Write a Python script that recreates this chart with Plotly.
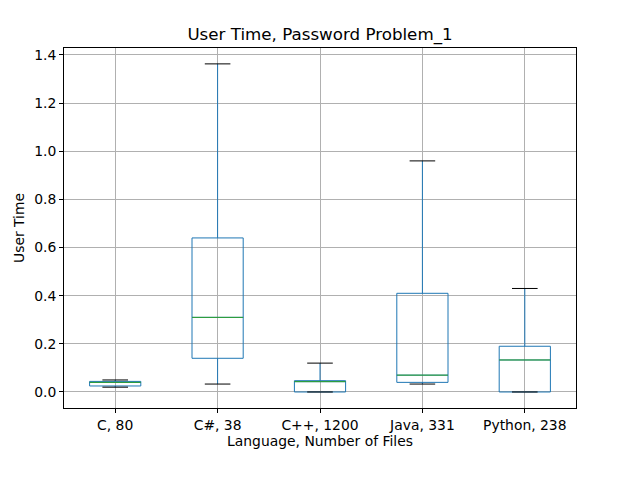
import plotly.graph_objects as go

languages = ["C, 80", "C#, 38", "C++, 1200", "Java, 331", "Python, 238"]
lower_fence = [0.02, 0.033, 0.0, 0.033, 0.0]
q1 = [0.025, 0.14, 0.0, 0.04, 0.0]
median = [0.04, 0.31, 0.043, 0.07, 0.133]
q3 = [0.044, 0.64, 0.047, 0.41, 0.19]
upper_fence = [0.05, 1.363, 0.12, 0.96, 0.43]

positions = list(range(1, len(languages) + 1))
box_w = 0.5
cap_w = 0.25

fig = go.Figure()
fig.add_trace(go.Box(
    x=positions, q1=q1, median=median, q3=q3,
    lowerfence=lower_fence, upperfence=upper_fence,
    width=box_w, whiskerwidth=0,
    fillcolor="rgba(0,0,0,0)",
    line=dict(color="#1f77b4", width=1),
    boxpoints=False, hoverinfo="skip", showlegend=False,
))

# caps (black) and medians (green)
cap_x, cap_y, med_x, med_y = [], [], [], []
for p, lo, hi, m in zip(positions, lower_fence, upper_fence, median):
    for v in (lo, hi):
        cap_x += [p - cap_w / 2, p + cap_w / 2, None]
        cap_y += [v, v, None]
    med_x += [p - box_w / 2, p + box_w / 2, None]
    med_y += [m, m, None]

fig.add_trace(go.Scatter(x=cap_x, y=cap_y, mode="lines",
                         line=dict(color="black", width=1),
                         showlegend=False, hoverinfo="skip"))
fig.add_trace(go.Scatter(x=med_x, y=med_y, mode="lines",
                         line=dict(color="#2ca02c", width=1),
                         showlegend=False, hoverinfo="skip"))

font = "DejaVu Sans, sans-serif"
axis_common = dict(
    showline=True, linecolor="black", linewidth=1, mirror=True,
    ticks="outside", ticklen=4, tickcolor="black", tickwidth=1,
    showgrid=True, gridcolor="#b0b0b0", gridwidth=1, zeroline=False,
    tickfont=dict(family=font, size=13.9, color="black"),
    automargin=False,
)

fig.update_layout(
    width=640, height=480,
    margin=dict(l=56, r=72, t=40, b=80, autoexpand=False),
    paper_bgcolor="white", plot_bgcolor="white",
    title=dict(text="User Time, Password Problem_1", x=(56 + 568) / 2 / 640,
               xanchor="center",
               y=1 - 26 / 480, yanchor="middle",
               font=dict(family=font, size=16.7, color="black")),
    xaxis=dict(range=[0.5, 5.5], tickmode="array", tickvals=positions,
               ticktext=languages,
               title=dict(text="Language, Number of Files", standoff=4,
                          font=dict(family=font, size=13.9, color="black")),
               **axis_common),
    yaxis=dict(range=[-0.0665, 1.429], tickmode="array",
               tickvals=[0.0, 0.2, 0.4, 0.6, 0.8, 1.0, 1.2, 1.4],
               ticktext=["0.0", "0.2", "0.4", "0.6", "0.8", "1.0", "1.2", "1.4"],
               title=dict(text="User Time", standoff=6,
                          font=dict(family=font, size=13.9, color="black")),
               **axis_common),
)

fig.write_html("out.html")
